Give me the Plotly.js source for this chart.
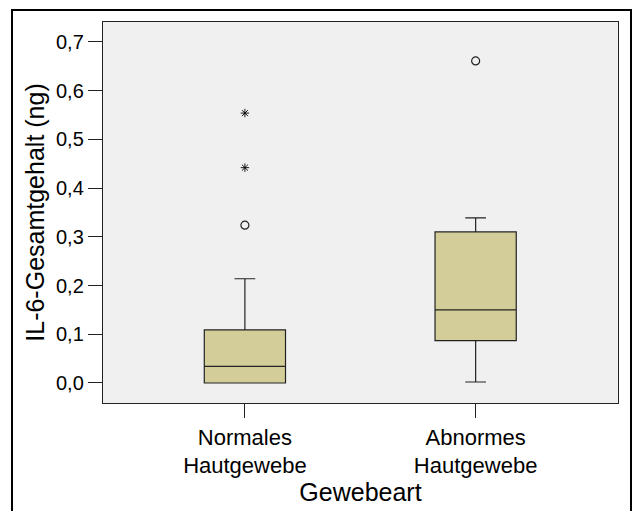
<!DOCTYPE html>
<html>
<head>
<meta charset="utf-8">
<script src="https://cdn.plot.ly/plotly-3.0.1.min.js"></script>
<style>
  html, body { margin: 0; padding: 0; background: #fff; }
  #chart { width: 633px; height: 511px; }
</style>
</head>
<body>
<div id="chart"></div>
<script>
// IL-6 content per tissue type (box statistics, ng)
const categories = ['Normales Hautgewebe', 'Abnormes Hautgewebe'];
const tickLabels = ['Normales<br>Hautgewebe', 'Abnormes<br>Hautgewebe'];
const lowerWhisker = [0.0, 0.002];
const q1Values = [0.0, 0.087];
const medianValues = [0.034, 0.150];
const q3Values = [0.109, 0.310];
const upperWhisker = [0.214, 0.339];

// outliers (circles) and extreme values (asterisks)
const outlierCats = ['Normales Hautgewebe', 'Abnormes Hautgewebe'];
const outlierValues = [0.324, 0.661];
const extremeCats = ['Normales Hautgewebe', 'Normales Hautgewebe'];
const extremeValues = [0.554, 0.442];

const W = 633, H = 511;
const margin = { l: 103, r: 15, t: 22, b: 108 };
const plotW = W - margin.l - margin.r;
const plotH = H - margin.t - margin.b;

// outer frame edges in pixels, converted to paper coordinates
const frame = { left: 12, right: 631, top: 10, bottom: 515 };
const px2paperX = x => (x - margin.l) / plotW;
const px2paperY = y => (H - margin.b - y) / plotH;

const boxTrace = {
  type: 'box',
  x: categories,
  q1: q1Values,
  median: medianValues,
  q3: q3Values,
  lowerfence: lowerWhisker,
  upperfence: upperWhisker,
  boxpoints: false,
  width: 0.352,
  whiskerwidth: 0.255,
  fillcolor: '#d3ce99',
  line: { color: '#222', width: 1.2 },
  hoverinfo: 'y',
  showlegend: false
};

const outlierTrace = {
  type: 'scatter',
  mode: 'markers',
  x: outlierCats,
  y: outlierValues,
  marker: { symbol: 'circle-open', size: 8, color: '#222', line: { width: 1.2, color: '#222' } },
  showlegend: false
};

const extremeTrace = {
  type: 'scatter',
  mode: 'markers',
  x: extremeCats,
  y: extremeValues,
  marker: { symbol: 'asterisk-open', size: 7, color: '#000', line: { width: 0.9, color: '#000' } },
  showlegend: false
};

const layout = {
  width: W,
  height: H,
  margin: margin,
  paper_bgcolor: '#ffffff',
  plot_bgcolor: '#f0f0f0',
  separators: ',.',
  font: { family: 'Liberation Sans, Arial, sans-serif', color: '#000' },
  showlegend: false,
  xaxis: {
    type: 'category',
    categoryorder: 'array',
    categoryarray: categories,
    range: [-0.615, 1.617],
    tickvals: categories,
    ticktext: tickLabels,
    ticks: 'outside',
    ticklen: 14,
    tickcolor: '#222',
    tickfont: { size: 22 },
    showline: true,
    mirror: true,
    linecolor: '#222',
    linewidth: 1.2,
    showgrid: false,
    zeroline: false,
    title: { text: 'Gewebeart', font: { size: 25 }, standoff: 0 }
  },
  yaxis: {
    range: [-0.0411, 0.741],
    tick0: 0,
    dtick: 0.1,
    tickformat: '.1f',
    ticks: 'outside',
    ticklen: 14,
    tickcolor: '#222',
    tickfont: { size: 20 },
    showline: true,
    mirror: true,
    linecolor: '#222',
    linewidth: 1.2,
    showgrid: false,
    zeroline: false,
    title: { text: 'IL-6-Gesamtgehalt (ng)', font: { size: 25 }, standoff: 4 }
  },
  shapes: [{
    type: 'rect',
    xref: 'paper', yref: 'paper',
    x0: px2paperX(frame.left), x1: px2paperX(frame.right),
    y0: px2paperY(frame.bottom), y1: px2paperY(frame.top),
    line: { color: '#000', width: 2 },
    fillcolor: 'rgba(0,0,0,0)',
    layer: 'below'
  }]
};

Plotly.newPlot('chart', [boxTrace, outlierTrace, extremeTrace], layout, { displayModeBar: false, staticPlot: true });
</script>
</body>
</html>
